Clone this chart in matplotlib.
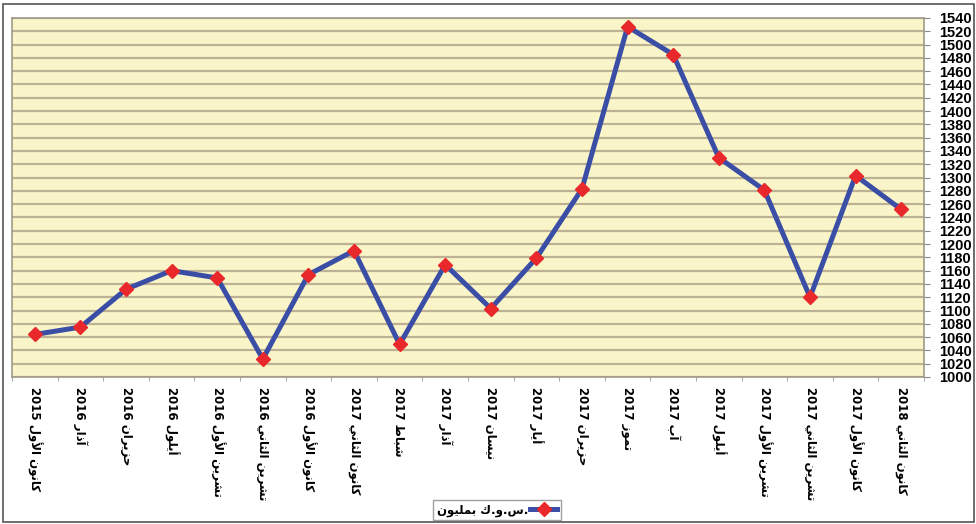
import matplotlib
matplotlib.use("Agg")
import matplotlib.pyplot as plt
from matplotlib.patches import Rectangle
from matplotlib.ticker import FixedLocator

# ---------------- data ----------------
months = ["كانون الأول", "آذار", "حزيران", "أيلول", "تشرين الأول", "تشرين الثاني",
          "كانون الأول", "كانون الثاني", "شباط", "آذار", "نيسان", "أيار", "حزيران",
          "تموز", "آب", "أيلول", "تشرين الأول", "تشرين الثاني", "كانون الأول", "كانون الثاني"]
years = ["2015", "2016", "2016", "2016", "2016", "2016", "2016", "2017", "2017", "2017",
         "2017", "2017", "2017", "2017", "2017", "2017", "2017", "2017", "2017", "2018"]
values = [1064, 1075, 1132, 1160, 1149, 1027, 1154, 1190, 1049, 1169,
          1103, 1179, 1283, 1527, 1485, 1330, 1281, 1120, 1303, 1252]
series_word = "بمليون"
series_unit = "ك.و.س."
y_ticks = list(range(1000, 1541, 20))

# ---------------- simple Arabic shaping (presentation forms) ----------------
FORMS = {  # isolated, final, initial, medial
    "ا": ("\uFE8D", "\uFE8E", None, None),
    "أ": ("\uFE83", "\uFE84", None, None),
    "آ": ("\uFE81", "\uFE82", None, None),
    "ب": ("\uFE8F", "\uFE90", "\uFE91", "\uFE92"),
    "ت": ("\uFE95", "\uFE96", "\uFE97", "\uFE98"),
    "ث": ("\uFE99", "\uFE9A", "\uFE9B", "\uFE9C"),
    "ح": ("\uFEA1", "\uFEA2", "\uFEA3", "\uFEA4"),
    "ذ": ("\uFEAB", "\uFEAC", None, None),
    "ر": ("\uFEAD", "\uFEAE", None, None),
    "ز": ("\uFEAF", "\uFEB0", None, None),
    "س": ("\uFEB1", "\uFEB2", "\uFEB3", "\uFEB4"),
    "ش": ("\uFEB5", "\uFEB6", "\uFEB7", "\uFEB8"),
    "ط": ("\uFEC1", "\uFEC2", "\uFEC3", "\uFEC4"),
    "ك": ("\uFED9", "\uFEDA", "\uFEDB", "\uFEDC"),
    "ل": ("\uFEDD", "\uFEDE", "\uFEDF", "\uFEE0"),
    "م": ("\uFEE1", "\uFEE2", "\uFEE3", "\uFEE4"),
    "ن": ("\uFEE5", "\uFEE6", "\uFEE7", "\uFEE8"),
    "و": ("\uFEED", "\uFEEE", None, None),
    "ي": ("\uFEF1", "\uFEF2", "\uFEF3", "\uFEF4"),
}
LAM_ALEF = {"آ": ("\uFEF5", "\uFEF6"), "أ": ("\uFEF7", "\uFEF8"), "ا": ("\uFEFB", "\uFEFC")}


def dual(c):
    return c in FORMS and FORMS[c][2] is not None


def shape(s):
    out = []
    i = 0
    n = len(s)
    while i < n:
        c = s[i]
        if c not in FORMS:
            out.append(c)
            i += 1
            continue
        prev = s[i - 1] if i > 0 else ""
        jp = dual(prev)
        if c == "ل" and i + 1 < n and s[i + 1] in LAM_ALEF:
            out.append(LAM_ALEF[s[i + 1]][1 if jp else 0])
            i += 2
            continue
        nxt = s[i + 1] if i + 1 < n else ""
        jn = dual(c) and nxt in FORMS
        iso, fin, ini, med = FORMS[c]
        if jp and jn:
            out.append(med)
        elif jp:
            out.append(fin)
        elif jn:
            out.append(ini)
        else:
            out.append(iso)
        i += 1
    return "".join(out)


def visual(s):
    return shape(s)[::-1]


labels = [y + " " + visual(m) for m, y in zip(months, years)]
legend_label = visual(series_word) + " " + shape(series_unit)

# ---------------- figure ----------------
W, H = 976, 524
fig = plt.figure(figsize=(W / 100, H / 100), dpi=100)
fig.patch.set_facecolor("white")

ax = fig.add_axes([12 / W, 1 - 377 / H, (924 - 12) / W, (377 - 18) / H])
ax.set_facecolor("#faf5c8")

x = list(range(len(values)))
ax.plot(x, values, color="#3b4ea6", lw=3.6, marker="D", markersize=7.5,
        markerfacecolor="#e8282a", markeredgecolor="#e8282a", zorder=3,
        label=legend_label)

ax.set_xlim(-0.5, len(values) - 0.5)
ax.set_ylim(1000, 1540)

ax.yaxis.tick_right()
ax.set_yticks(y_ticks)
ax.set_yticklabels([str(t) for t in y_ticks], fontsize=10.5, fontweight="bold",
                   family="Liberation Sans")
ax.tick_params(axis="y", length=4, width=0.8, color="#888888", pad=7)
ax.yaxis.grid(True, color="#bdb195", lw=1.6)
ax.set_axisbelow(True)

ax.set_xticks(x)
ax.set_xticklabels(labels, rotation=-90, fontsize=8.5, fontweight="bold",
                   family="DejaVu Sans", va="top", ha="center")
ax.tick_params(axis="x", length=0, pad=7)
ax.xaxis.set_minor_locator(FixedLocator([i - 0.5 for i in range(len(values) + 1)]))
ax.tick_params(axis="x", which="minor", length=3, color="#999999")

for s in ["left", "right", "bottom", "top"]:
    ax.spines[s].set_color("#a09a88")
    ax.spines[s].set_linewidth(1.2)

leg = ax.legend(loc="center", bbox_to_anchor=(497 / W, 1 - 510 / H),
                bbox_transform=fig.transFigure, markerfirst=False,
                prop={"family": "DejaVu Sans", "weight": "bold", "size": 8.5},
                frameon=True, fancybox=False, handlelength=2.3,
                borderpad=0.3, handletextpad=0.2)
leg.get_frame().set_edgecolor("#888888")
leg.get_frame().set_linewidth(1.0)

# outer frame
fig.add_artist(Rectangle((3 / W, 2 / H), (W - 5) / W, (H - 6) / H,
                         transform=fig.transFigure, fill=False,
                         edgecolor="#555555", lw=1.2))

fig.savefig("out.png", dpi=100)
